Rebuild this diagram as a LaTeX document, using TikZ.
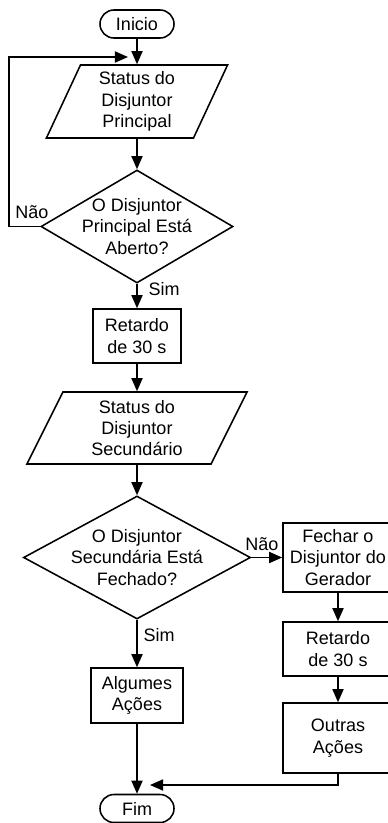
\documentclass[tikz,border=0pt]{standalone}
\usepackage{fontspec}
\setmainfont{Liberation Sans}
\usetikzlibrary{shapes.geometric,arrows.meta}

\begin{document}
\begin{tikzpicture}[x=0.025cm,y=-0.025cm,line width=1.1pt,
        every node/.style={font=\fontsize{12.8}{15.2}\selectfont},
        flow/.style={-{Triangle[length=0.33cm,width=0.28cm]}},
        term/.style={draw,rectangle,rounded corners=0.35cm,minimum width=1.85cm,minimum height=0.7cm,inner sep=0pt},
        proc/.style={draw,rectangle,align=center,inner sep=0pt},
        io/.style={draw,trapezium,trapezium left angle=#1,trapezium right angle=180-#1},
        dec/.style={draw,diamond,inner sep=0pt},
        txt/.style={align=center}]
        \useasboundingbox (0,0) rectangle (388,823);
        \node[term] (ini) at (137,24) {Inicio};
        \node[io=65,inner xsep=1.4125cm,inner ysep=0.9125cm,label={[txt]center:{Status do\\Disjuntor\\Principal}}] (st1) at (137,101.5) {};
        \node[dec,minimum width=4.8cm,minimum height=2.825cm,label={[txt]center:{O Disjuntor\\Principal Está\\Aberto?}}] (d1) at (137,226.5) {};
        \node[proc,minimum width=2.2cm,minimum height=1.35cm] (ret1) at (137,336) {Retardo\\de 30 s};
        \node[io=63.4,inner xsep=1.85cm,inner ysep=0.9cm,label={[txt]center:{Status do\\Disjuntor\\Secundário}}] (st2) at (137,428) {};
        \node[dec,minimum width=5.675cm,minimum height=3.075cm,label={[txt]center:{O Disjuntor\\Secundária Está\\Fechado?}}] (d2) at (137,557.5) {};
        \node[proc,minimum width=2.3cm,minimum height=1.375cm] (alg) at (137,695.5) {Algumes\\Ações};
        \node[term] (fim) at (137,808.5) {Fim};
        \node[proc,minimum width=2.75cm,minimum height=1.725cm] (fec) at (338,557.5) {Fechar o\\Disjuntor do\\Gerador};
        \node[proc,minimum width=2.75cm,minimum height=1.35cm] (ret2) at (338,649) {Retardo\\de 30 s};
        \node[proc,minimum width=2.75cm,minimum height=1.75cm] (out) at (338,738) {Outras\\Ações};
        \node (nao1) at (32,212) {Não};
        \node (sim1) at (164,289) {Sim};
        \node (nao2) at (262,544) {Não};
        \node (sim2) at (159,635) {Sim};
        \coordinate (back) at (128,57);
        \coordinate (join) at (150,785);
        \draw[flow] (ini) -- (st1);
        \draw[flow] (st1) -- (d1);
        \draw[flow] (d1.west) -- ++(-31,0) |- (back);
        \draw[flow] (d1) -- (ret1);
        \draw[flow] (ret1) -- (st2);
        \draw[flow] (st2) -- (d2);
        \draw[flow] (d2) -- (alg);
        \draw[flow] (alg) -- (fim);
        \draw[flow] (d2) -- (fec);
        \draw[flow] (fec) -- (ret2);
        \draw[flow] (ret2) -- (out);
        \draw[flow] (out) |- (join);
    \end{tikzpicture}
\end{document}
